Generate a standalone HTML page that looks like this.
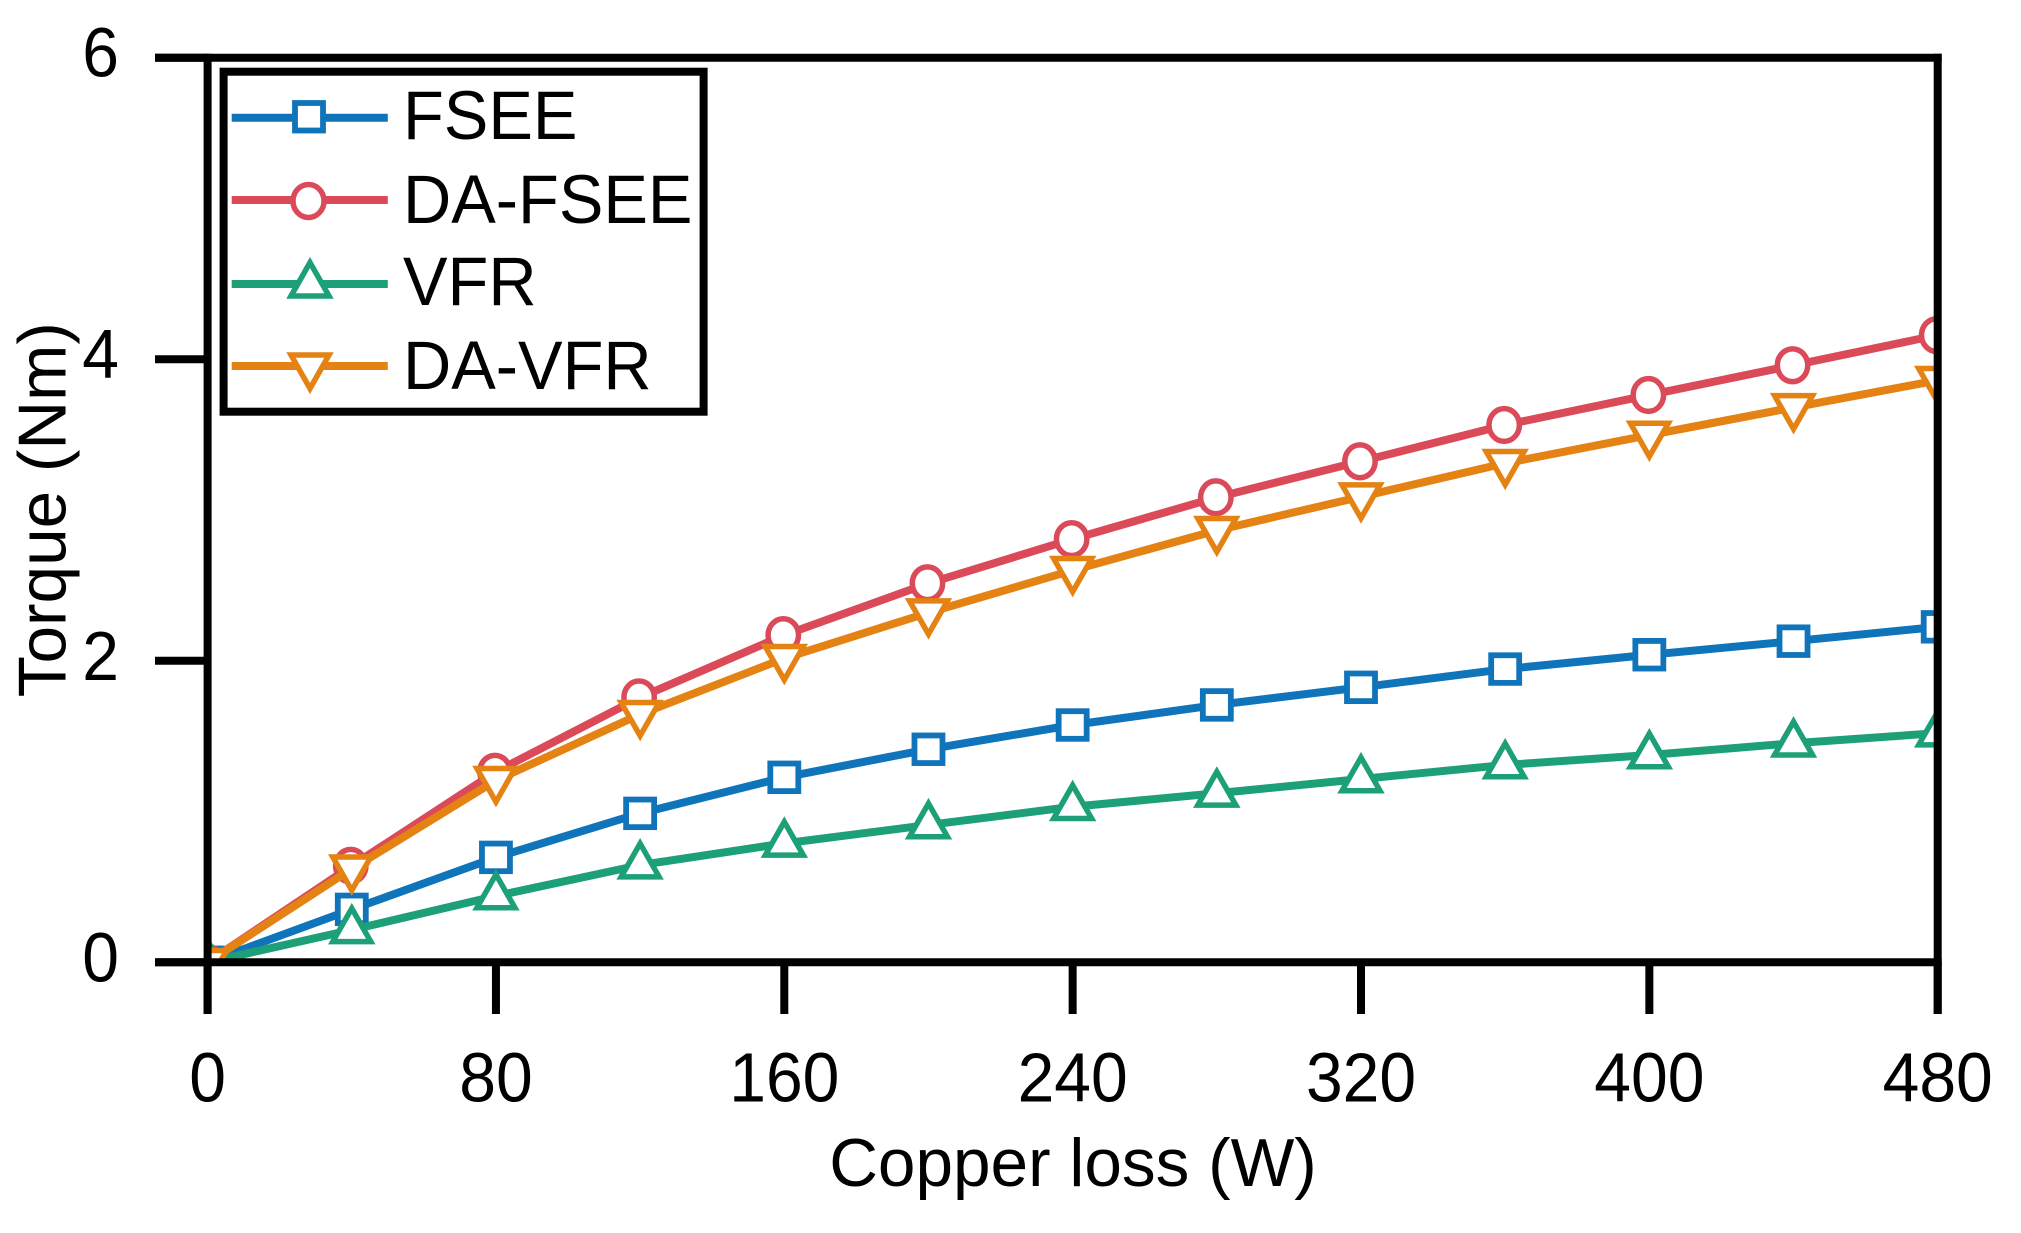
<!DOCTYPE html>
<html lang="en">
<head>
<meta charset="utf-8">
<title>Torque versus copper loss</title>
<style>
  html, body { margin: 0; padding: 0; background: #ffffff; }
  body { width: 2021px; height: 1233px; overflow: hidden; }
  svg { display: block; font-family: "Liberation Sans", Arial, sans-serif; fill: #000; }
  text { font-size: 66px; fill: #000; }
  .title-text { font-size: 67.5px; }
  .legend-text { font-size: 66.8px; }
</style>
</head>
<body>
<svg id="chart" width="2021" height="1233" viewBox="0 0 2021 1233" xmlns="http://www.w3.org/2000/svg">
  <defs>
    <clipPath id="plot-clip"><rect x="207.6" y="57.7" width="1730.1" height="904.6"/></clipPath>
  </defs>
  <rect x="0" y="0" width="2021" height="1233" fill="#ffffff"/>
  <g id="series-layer" clip-path="url(#plot-clip)"></g>
  <g id="axes-layer"></g>
  <text class="title-text" x="1073" y="1186" text-anchor="middle">Copper loss (W)</text>
  <text class="title-text" x="65.7" y="509.7" text-anchor="middle" transform="rotate(-90 65.7 509.7)">Torque (Nm)</text>

  <g>
    <rect x="223.6" y="71.7" width="480" height="340" fill="#ffffff" stroke="#000" stroke-width="8"/>
    <g>
      <line x1="231.7" y1="117.7" x2="387.8" y2="117.7" stroke="#1074bb" stroke-width="8"/>
      <rect x="295" y="103" width="28" height="27.5" fill="#fff" stroke="#1074bb" stroke-width="5.8"/>
      <text class="legend-text" transform="translate(403 139) scale(1 1.03)">FSEE</text>
    </g>
    <g>
      <line x1="231.7" y1="200" x2="387.8" y2="200" stroke="#db4a58" stroke-width="8"/>
      <ellipse cx="308.5" cy="201" rx="15.5" ry="16.5" fill="#fff" stroke="#db4a58" stroke-width="5.5"/>
      <text class="legend-text" transform="translate(403 223) scale(1 1.03)">DA-FSEE</text>
    </g>
    <g>
      <line x1="231.7" y1="284" x2="387.8" y2="284" stroke="#1da077" stroke-width="8"/>
      <path d="M310 262.5 L329 296 L291 296 Z" fill="#fff" stroke="#1da077" stroke-width="5.5"/>
      <text class="legend-text" transform="translate(403 305) scale(1 1.03)">VFR</text>
    </g>
    <g>
      <line x1="231.7" y1="366" x2="387.8" y2="366" stroke="#e48213" stroke-width="8"/>
      <path d="M310 388.5 L329 355 L291 355 Z" fill="#fff" stroke="#e48213" stroke-width="5.5"/>
      <text class="legend-text" transform="translate(403 389) scale(1 1.03)">DA-VFR</text>
    </g>
  </g>
</svg>

<script>
const copperLoss = [0, 40, 80, 120, 160, 200, 240, 280, 320, 360, 400, 440, 480];
const fseeTorque = [0, 0.351, 0.696, 0.988, 1.227, 1.413, 1.574, 1.707, 1.824, 1.945, 2.04, 2.13, 2.225];
const daFseeTorque = [0, 0.64, 1.264, 1.757, 2.17, 2.514, 2.807, 3.084, 3.323, 3.564, 3.763, 3.96, 4.16];
const vfrTorque = [0, 0.215, 0.44, 0.645, 0.789, 0.911, 1.032, 1.121, 1.216, 1.309, 1.375, 1.453, 1.52];
const daVfrTorque = [0, 0.62, 1.207, 1.645, 2.016, 2.319, 2.6, 2.865, 3.088, 3.31, 3.497, 3.68, 3.86];
const xTickLabels = [0, 80, 160, 240, 320, 400, 480];
const yTickLabels = [0, 2, 4, 6];

const SVG_NS = 'http://www.w3.org/2000/svg';
const plotLeft = 207.6, plotRight = 1937.7, plotTop = 57.7, plotBottom = 962.3;
const xMax = 480, yMax = 6;

function xScale(v) { return plotLeft + (v / xMax) * (plotRight - plotLeft); }
function yScale(v) { return plotBottom - (v / yMax) * (plotBottom - plotTop); }

function make(tag, attrs, parent) {
  const node = document.createElementNS(SVG_NS, tag);
  for (const key in attrs) node.setAttribute(key, attrs[key]);
  parent.appendChild(node);
  return node;
}

const seriesLayer = document.getElementById('series-layer');
const axesLayer = document.getElementById('axes-layer');

function drawMarker(kind, cx, cy, color, parent) {
  const common = { fill: '#ffffff', stroke: color };
  if (kind === 'square') {
    return make('rect', Object.assign({ x: cx - 14, y: cy - 13.8, width: 28, height: 27.6, 'stroke-width': 5.8 }, common), parent);
  }
  if (kind === 'circle') {
    return make('ellipse', Object.assign({ cx: cx - 1, cy: cy, rx: 15.2, ry: 16.4, 'stroke-width': 5.5 }, common), parent);
  }
  if (kind === 'up') {
    const d = 'M' + cx + ' ' + (cy - 21.5) + ' L' + (cx + 19) + ' ' + (cy + 11.8) + ' L' + (cx - 19) + ' ' + (cy + 11.8) + ' Z';
    return make('path', Object.assign({ d: d, 'stroke-width': 5.5 }, common), parent);
  }
  const d = 'M' + cx + ' ' + (cy + 21.5) + ' L' + (cx + 19) + ' ' + (cy - 11.8) + ' L' + (cx - 19) + ' ' + (cy - 11.8) + ' Z';
  return make('path', Object.assign({ d: d, 'stroke-width': 5.5 }, common), parent);
}

function drawSeries(name, values, color, kind) {
  const group = make('g', {}, seriesLayer);
  
  

  const pts = values.map(function (v, i) { return xScale(copperLoss[i]) + ',' + yScale(v); }).join(' ');
  const line = make('polyline', { points: pts, fill: 'none', stroke: color, 'stroke-width': 8, 'stroke-linejoin': 'round' }, group);
  
  

  values.forEach(function (v, i) {
    const marker = drawMarker(kind, xScale(copperLoss[i]), yScale(v), color, group);
    
    
  });
}

drawSeries('fsee', fseeTorque, '#1074bb', 'square');
drawSeries('da-fsee', daFseeTorque, '#db4a58', 'circle');
drawSeries('vfr', vfrTorque, '#1da077', 'up');
drawSeries('da-vfr', daVfrTorque, '#e48213', 'down');

const axisStroke = { stroke: '#000000', 'stroke-width': 8 };

const topAxis = make('line', Object.assign({ x1: 155, x2: plotRight + 4, y1: plotTop, y2: plotTop }, axisStroke), axesLayer);



const rightAxis = make('line', Object.assign({ x1: plotRight, x2: plotRight, y1: plotTop - 4, y2: 1014 }, axisStroke), axesLayer);



const leftAxis = make('line', Object.assign({ x1: plotLeft, x2: plotLeft, y1: plotTop - 4, y2: 1014 }, axisStroke), axesLayer);



const bottomAxis = make('line', Object.assign({ x1: 155, x2: plotRight + 4, y1: plotBottom, y2: plotBottom }, axisStroke), axesLayer);



xTickLabels.forEach(function (t) {
  const x = xScale(t);
  const tick = make('line', Object.assign({ x1: x, x2: x, y1: plotBottom, y2: 1014 }, axisStroke), axesLayer);
  
  
  const label = make('text', { transform: 'translate(' + x + ' 1101.5) scale(1 1.06)', 'text-anchor': 'middle' }, axesLayer);
  label.textContent = String(t);
  
  
});

yTickLabels.forEach(function (t) {
  const y = yScale(t);
  const tick = make('line', Object.assign({ x1: 155, x2: plotLeft, y1: y, y2: y }, axisStroke), axesLayer);
  
  
  const label = make('text', { transform: 'translate(119 ' + (y + 19) + ') scale(1 1.06)', 'text-anchor': 'end' }, axesLayer);
  label.textContent = String(t);
  
  
});
</script>
</body>
</html>
